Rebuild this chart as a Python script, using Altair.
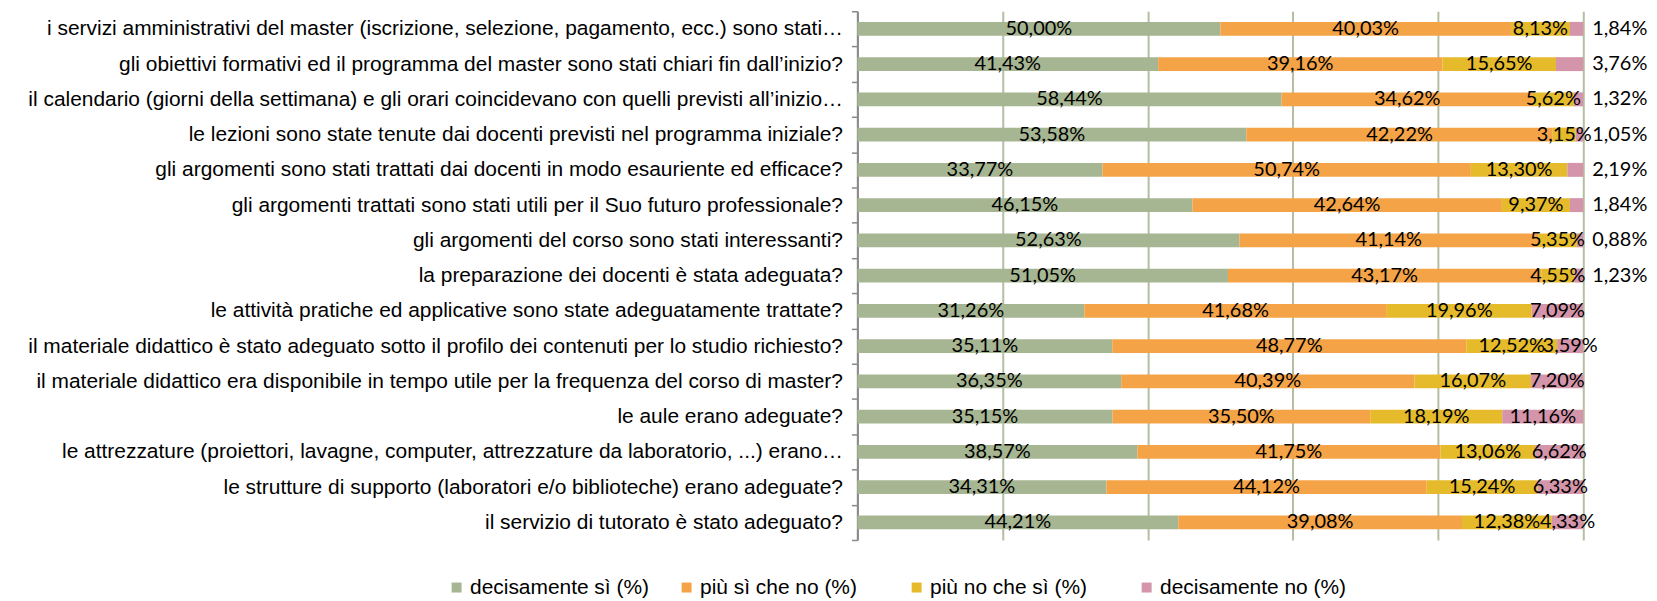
import altair as alt
import pandas as pd

questions = [
    "i servizi amministrativi del master (iscrizione, selezione, pagamento, ecc.) sono stati…",
    "gli obiettivi formativi ed il programma del master sono stati chiari fin dall’inizio?",
    "il calendario (giorni della settimana) e gli orari coincidevano con quelli previsti all’inizio…",
    "le lezioni sono state tenute dai docenti previsti nel programma iniziale?",
    "gli argomenti sono stati trattati dai docenti in modo esauriente ed efficace?",
    "gli argomenti trattati sono stati utili per il Suo futuro professionale?",
    "gli argomenti del corso sono stati interessanti?",
    "la preparazione dei docenti è stata adeguata?",
    "le attività pratiche ed applicative sono state adeguatamente trattate?",
    "il materiale didattico è stato adeguato sotto il profilo dei contenuti per lo studio richiesto?",
    "il materiale didattico era disponibile in tempo utile per la frequenza del corso di master?",
    "le aule erano adeguate?",
    "le attrezzature (proiettori, lavagne, computer, attrezzature da laboratorio, ...) erano…",
    "le strutture di supporto (laboratori e/o biblioteche) erano adeguate?",
    "il servizio di tutorato è stato adeguato?",
]

series_names = ["decisamente sì (%)", "più sì che no (%)", "più no che sì (%)", "decisamente no (%)"]

decisamente_si = [50.00, 41.43, 58.44, 53.58, 33.77, 46.15, 52.63, 51.05, 31.26, 35.11, 36.35, 35.15, 38.57, 34.31, 44.21]
piu_si_che_no = [40.03, 39.16, 34.62, 42.22, 50.74, 42.64, 41.14, 43.17, 41.68, 48.77, 40.39, 35.50, 41.75, 44.12, 39.08]
piu_no_che_si = [8.13, 15.65, 5.62, 3.15, 13.30, 9.37, 5.35, 4.55, 19.96, 12.52, 16.07, 18.19, 13.06, 15.24, 12.38]
decisamente_no = [1.84, 3.76, 1.32, 1.05, 2.19, 1.84, 0.88, 1.23, 7.09, 3.59, 7.20, 11.16, 6.62, 6.33, 4.33]

# whether the "decisamente no" label sits outside the bar (to the right)
no_label_outside = [True] * 8 + [False] * 7

colors = ["#A6B592", "#F4A447", "#E5BB2B", "#D495AA"]

LABEL_FONT = "Liberation Sans, Arial, sans-serif"
DATA_FONT = "Lato, Liberation Sans, sans-serif"

rows = []
all_series = [decisamente_si, piu_si_che_no, piu_no_che_si, decisamente_no]
for qi, q in enumerate(questions):
    for si, name in enumerate(series_names):
        v = all_series[si][qi]
        rows.append({
            "question": q,
            "series": name,
            "sidx": si,
            "value": v,
            "label": f"{v:.2f}".replace(".", ",") + "%",
            "outside": bool(si == 3 and no_label_outside[qi]),
        })
df = pd.DataFrame(rows)

y_enc = alt.Y(
    "question:N",
    sort=questions,
    scale=alt.Scale(paddingInner=0, paddingOuter=0),
    axis=alt.Axis(
        title=None,
        tickBand="extent",
        tickSize=6,
        tickColor="#8A8A8A",
        tickWidth=1.5,
        domainColor="#8A8A8A",
        domainWidth=2,
        labelFont=LABEL_FONT,
        labelFontSize=21,
        labelColor="#000000",
        labelPadding=9,
        labelLimit=1200,
        grid=False,
    ),
)

base = alt.Chart(df)

bars = base.mark_bar(size=14).encode(
    y=y_enc,
    x=alt.X(
        "value:Q",
        stack="zero",
        scale=alt.Scale(domain=[0, 100], nice=False),
        axis=alt.Axis(
            title=None,
            values=[0, 20, 40, 60, 80, 100],
            labels=False,
            ticks=False,
            domain=False,
            grid=True,
            gridColor="#B3BFA0",
            gridWidth=2,
        ),
    ),
    color=alt.Color(
        "series:N",
        sort=series_names,
        scale=alt.Scale(domain=series_names, range=colors),
        legend=alt.Legend(
            title=None,
            orient="none",
            legendX=-413,
            legendY=568,
            direction="horizontal",
            columns=4,
            gridAlign="all",
            columnPadding=20,
            symbolType="square",
            symbolSize=100,
            symbolStrokeWidth=0,
            labelFont=LABEL_FONT,
            labelFontSize=21,
            labelColor="#000000",
            labelOffset=3,
            labelLimit=400,
            padding=0,
        ),
    ),
    order=alt.Order("sidx:Q"),
)

text_base = base.transform_stack(
    stack="value",
    as_=["x0", "x1"],
    groupby=["question"],
    sort=[alt.SortField("sidx", order="ascending")],
).transform_calculate(mid="(datum.x0 + datum.x1) / 2")

inside = text_base.transform_filter("!datum.outside").mark_text(
    font=DATA_FONT, fontSize=20, color="#000000", align="center", baseline="middle"
).encode(
    x=alt.X("mid:Q"),
    y=alt.Y("question:N", sort=questions),
    text="label:N",
)

outside = text_base.transform_filter("datum.outside").mark_text(
    font=DATA_FONT, fontSize=20, color="#000000", align="left", baseline="middle", dx=9
).encode(
    x=alt.X("x1:Q"),
    y=alt.Y("question:N", sort=questions),
    text="label:N",
)

chart = alt.layer(bars, inside, outside).properties(
    width=729,
    height=531,
    autosize=alt.AutoSizeParams(type="none"),
    padding={"left": 853, "top": 2, "right": 66, "bottom": 60},
).configure_view(stroke=None)

chart.save("out.html", embed_options={"renderer": "svg", "actions": False})
